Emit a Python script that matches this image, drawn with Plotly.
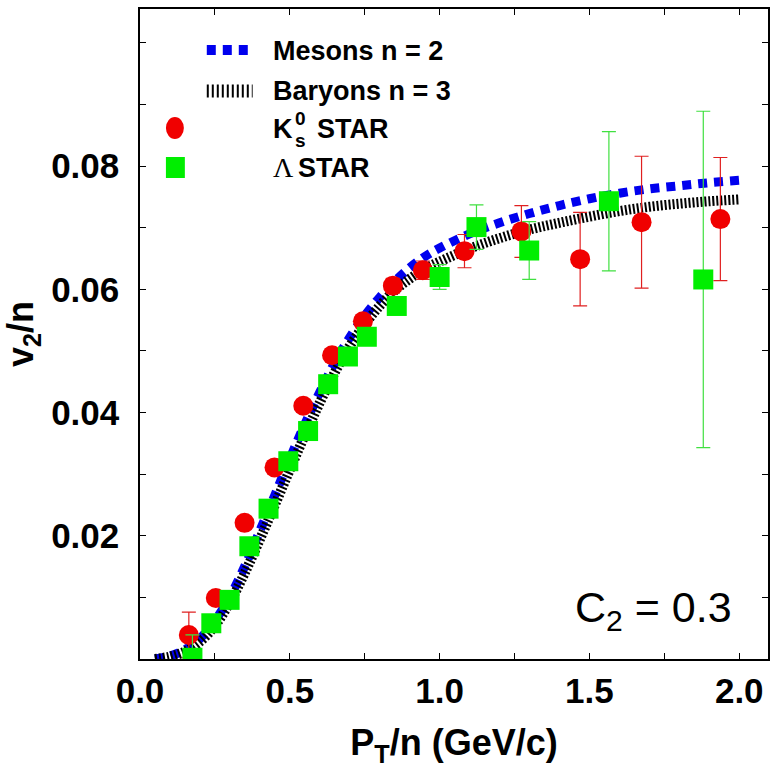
import plotly.graph_objects as go

# ---- model curves: v2/n versus pT/n ----
curve_pt = [0.05, 0.10, 0.15, 0.20, 0.25, 0.30, 0.35, 0.40, 0.45, 0.50,
            0.55, 0.60, 0.65, 0.70, 0.75, 0.80, 0.85, 0.90, 0.95, 1.00,
            1.10, 1.20, 1.30, 1.40, 1.50, 1.60, 1.70, 1.80, 1.90, 2.00]
meson_v2 = [0.0000, 0.0005, 0.0015, 0.0033, 0.0062, 0.0101, 0.0151, 0.0208, 0.0266, 0.0325,
            0.0381, 0.0433, 0.0481, 0.0522, 0.0557, 0.0587, 0.0613, 0.0635, 0.0653, 0.0667,
            0.0690, 0.0708, 0.0723, 0.0736, 0.0747, 0.0756, 0.0763, 0.0768, 0.0773, 0.0777]
baryon_v2 = [0.0000, 0.0004, 0.0012, 0.0028, 0.0054, 0.0092, 0.0140, 0.0194, 0.0250, 0.0307,
             0.0363, 0.0416, 0.0465, 0.0508, 0.0543, 0.0573, 0.0598, 0.0617, 0.0633, 0.0645,
             0.0666, 0.0683, 0.0697, 0.0708, 0.0718, 0.0727, 0.0734, 0.0739, 0.0743, 0.0746]

# ---- K0s STAR data ----
k0s_pt = [0.163, 0.253, 0.349, 0.449, 0.545, 0.641, 0.744, 0.844, 0.944,
          1.083, 1.273, 1.469, 1.674, 1.937]
k0s_v2 = [0.0039, 0.0099, 0.0221, 0.0311, 0.0411, 0.0493, 0.0548, 0.0606, 0.0631,
          0.0662, 0.0694, 0.0649, 0.0709, 0.0714]
k0s_err = [0.0037, 0.0010, 0.0010, 0.0010, 0.0010, 0.0010, 0.0010, 0.0012, 0.0015,
           0.0027, 0.0042, 0.0076, 0.0107, 0.0100]

# ---- Lambda STAR data ----
lam_pt = [0.175, 0.238, 0.299, 0.365, 0.429, 0.495, 0.561, 0.628, 0.694,
          0.757, 0.857, 1.000, 1.123, 1.299, 1.565, 1.880]
lam_v2 = [0.0002, 0.0058, 0.0096, 0.0183, 0.0244, 0.0321, 0.0370, 0.0446, 0.0491,
          0.0523, 0.0573, 0.0620, 0.0701, 0.0663, 0.0743, 0.0616]
lam_err = [0.0037, 0.0010, 0.0010, 0.0010, 0.0010, 0.0010, 0.0010, 0.0010, 0.0010,
           0.0010, 0.0012, 0.0020, 0.0036, 0.0047, 0.0113, 0.0273]

x_ticks = [0.0, 0.5, 1.0, 1.5, 2.0]
x_tick_text = ["0.0", "0.5", "1.0", "1.5", "2.0"]
y_ticks = [0.02, 0.04, 0.06, 0.08]
y_tick_text = ["0.02", "0.04", "0.06", "0.08"]

BLUE = "#0000ee"
RED = "#f00000"
GREEN = "#00ee00"
FONT = "Liberation Sans, Arial, sans-serif"

W, H = 771, 768
L, R, T, B = 140, 1, 9, 109

fig = go.Figure()

fig.add_trace(go.Scatter(
    x=curve_pt, y=meson_v2, mode="lines", line_shape="spline",
    line=dict(color=BLUE, width=9, dash="9px,7px"), showlegend=False))
fig.add_trace(go.Scatter(
    x=curve_pt, y=baryon_v2, mode="lines", line_shape="spline",
    line=dict(color="black", width=10, dash="2px,2px"), showlegend=False))

fig.add_trace(go.Scatter(
    x=k0s_pt, y=k0s_v2, mode="markers",
    marker=dict(symbol="circle", size=20, color=RED, line=dict(width=0)),
    error_y=dict(type="data", array=k0s_err, color="#e02020", thickness=1.2, width=7),
    showlegend=False))
fig.add_trace(go.Scatter(
    x=lam_pt, y=lam_v2, mode="markers",
    marker=dict(symbol="square", size=20, color=GREEN, line=dict(width=0)),
    error_y=dict(type="data", array=lam_err, color="#40e040", thickness=1.2, width=7),
    showlegend=False))

axis_common = dict(
    showline=True, linecolor="black", linewidth=1.5, mirror="ticks",
    ticks="inside", ticklen=6, tickwidth=1.2, tickcolor="black",
    showgrid=False, zeroline=False,
    tickfont=dict(family=FONT, size=35, color="black", weight="bold"),
)

fig.update_xaxes(
    range=[0, 2.096], tickmode="array", tickvals=x_ticks, ticktext=x_tick_text,
    ticklabelstandoff=0,
    minor=dict(dtick=0.25, ticks="inside", ticklen=6, tickcolor="black", showgrid=False),
    title=dict(text="P<sub>T</sub>/n (GeV/c)", standoff=22,
               font=dict(family=FONT, size=36, color="black", weight="bold")),
    **axis_common)
fig.update_yaxes(
    range=[0, 0.1055], tickmode="array", tickvals=y_ticks, ticktext=y_tick_text,
    ticklabelstandoff=12,
    minor=dict(dtick=0.01, ticks="inside", ticklen=6, tickcolor="black", showgrid=False),
    title=dict(text="v<sub>2</sub>/n", standoff=16,
               font=dict(family=FONT, size=36, color="black", weight="bold")),
    **axis_common)


# ---- hand-placed key in the upper left of the frame ----
def fx(p):
    return (p - L) / (W - L - R)


def fy(p):
    return (H - B - p) / (H - B - T)


shapes = [
    dict(type="line", xref="paper", yref="paper", x0=fx(207), x1=fx(250), y0=fy(50), y1=fy(50),
         line=dict(color=BLUE, width=10, dash="9px,7px")),
    dict(type="line", xref="paper", yref="paper", x0=fx(207), x1=fx(253), y0=fy(91), y1=fy(91),
         line=dict(color="black", width=13, dash="2px,3px")),
    dict(type="circle", xref="paper", yref="paper", x0=fx(166), x1=fx(184), y0=fy(139), y1=fy(117),
         fillcolor=RED, line=dict(width=0)),
    dict(type="rect", xref="paper", yref="paper", x0=fx(166), x1=fx(185), y0=fy(178), y1=fy(157),
         fillcolor=GREEN, line=dict(width=0)),
]

key_font = dict(family=FONT, size=27, color="black", weight="bold")
small_font = dict(family=FONT, size=19, color="black", weight="bold")
annotations = [
    dict(text="Mesons n = 2", x=fx(271), y=fy(51), font=key_font),
    dict(text="Baryons n = 3", x=fx(271), y=fy(91), font=key_font),
    dict(text="K", x=fx(271), y=fy(129), font=key_font),
    dict(text="0", x=fx(293), y=fy(119), font=small_font),
    dict(text="s", x=fx(293), y=fy(141), font=small_font),
    dict(text="STAR", x=fx(316), y=fy(129), font=key_font),
    dict(text="\u039b", x=fx(271), y=fy(168),
         font=dict(family="Liberation Serif, Times New Roman, serif", size=28, color="black")),
    dict(text="STAR", x=fx(296), y=fy(168), font=key_font),
]
for a in annotations:
    a.update(xref="paper", yref="paper", xanchor="left", yanchor="middle", showarrow=False)

annotations.append(dict(
    text="C<sub>2</sub> = 0.3", x=fx(655), y=fy(610), xref="paper", yref="paper",
    xanchor="center", yanchor="middle", showarrow=False,
    font=dict(family=FONT, size=43, color="black")))

fig.update_layout(
    width=W, height=H,
    margin=dict(l=L, r=R, t=T, b=B, pad=0),
    paper_bgcolor="white", plot_bgcolor="white",
    shapes=shapes, annotations=annotations,
    showlegend=False,
)

fig.write_html("out.html")
